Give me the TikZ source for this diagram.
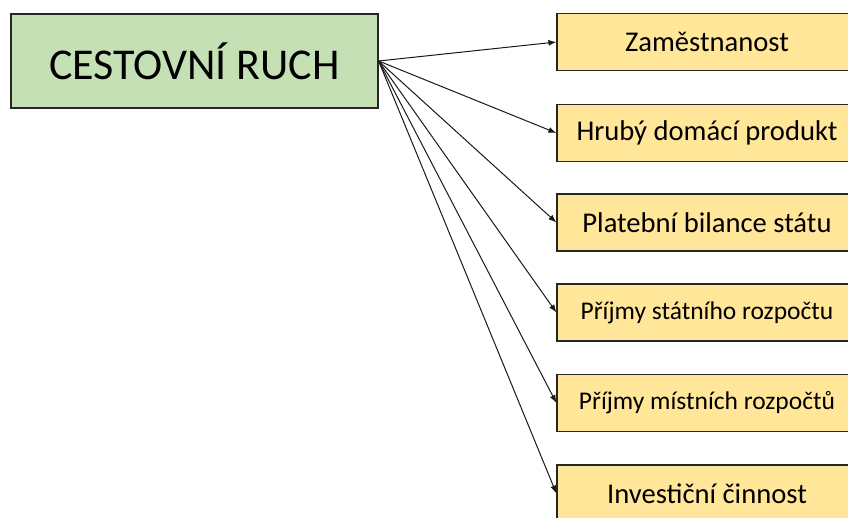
\documentclass[tikz,border=0pt]{standalone}
\usepackage{fontspec}
\setmainfont{Carlito}
\usetikzlibrary{arrows.meta}
\definecolor{boxgreen}{HTML}{C5E0B4}
\definecolor{boxyellow}{HTML}{FFE699}
\begin{document}
\begin{tikzpicture}[x=1pt,y=-1pt,
  mainbox/.style={draw=black!85,line width=1.2pt,fill=boxgreen,minimum width=367pt,minimum height=94pt,inner sep=0pt,font=\fontsize{44}{50}\selectfont},
  effbox/.style={draw=black!85,line width=1.2pt,fill=boxyellow,minimum width=300pt,minimum height=57pt,inner sep=0pt,font=\fontsize{28.6}{32}\selectfont},
  smalltext/.style={font=\fontsize{25.5}{30}\selectfont},
  conn/.style={-{Latex[length=8pt,width=6pt]},line width=1pt,black!90}]
\useasboundingbox (0,0) rectangle (848,517);
\node[mainbox] (L) at (194.5,61) {CESTOVNÍ RUCH};
\node[effbox] (R1) at (707,42) {Zaměstnanost};
\node[effbox] (R2) at (707,133) {Hrubý domácí produkt};
\node[effbox] (R3) at (707,222.5) {Platební bilance státu};
\node[effbox,smalltext] (R4) at (707,312.5) {Příjmy státního rozpočtu};
\node[effbox,smalltext] (R5) at (707,403) {Příjmy místních rozpočtů};
\node[effbox] (R6) at (707,493.5) {Investiční činnost};
\foreach \i in {1,...,6} \draw[conn] (L.east) -- (R\i.west);
\end{tikzpicture}
\end{document}
